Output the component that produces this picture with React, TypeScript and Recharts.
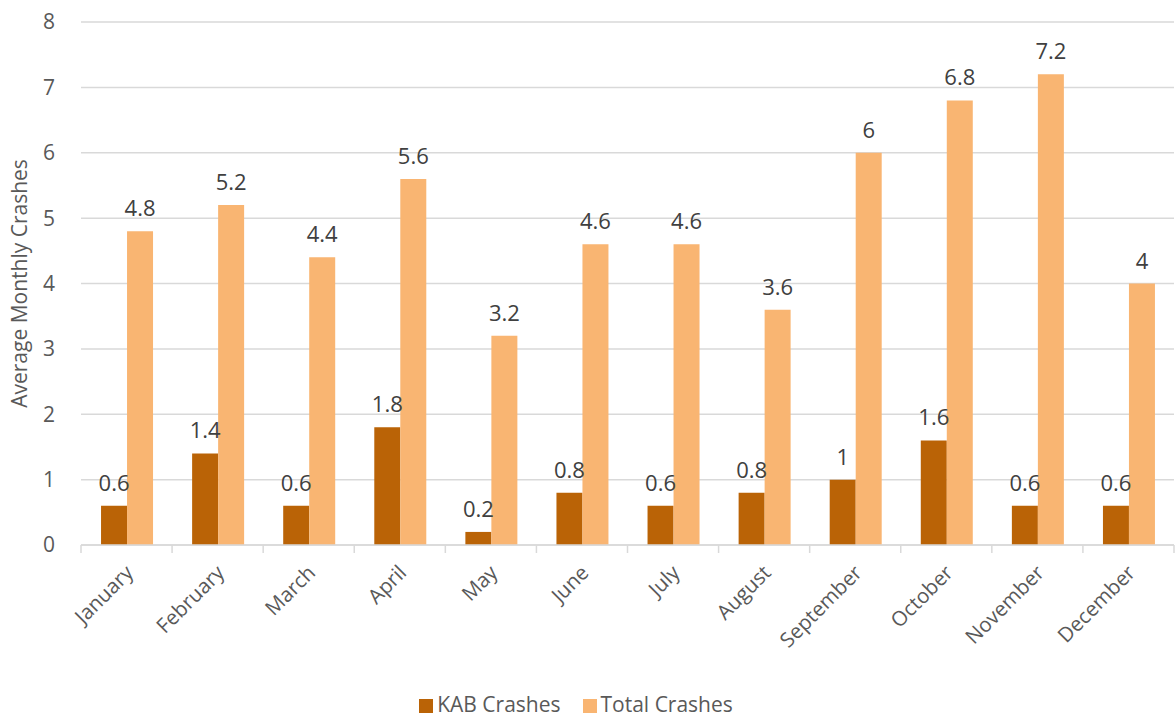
import React from 'react';
import { BarChart, Bar, XAxis, YAxis, CartesianGrid, Legend, LabelList } from 'recharts';

const months = ['January', 'February', 'March', 'April', 'May', 'June', 'July', 'August', 'September', 'October', 'November', 'December'];
const kabCrashes = [0.6, 1.4, 0.6, 1.8, 0.2, 0.8, 0.6, 0.8, 1, 1.6, 0.6, 0.6];
const totalCrashes = [4.8, 5.2, 4.4, 5.6, 3.2, 4.6, 4.6, 3.6, 6, 6.8, 7.2, 4];
const yTicks = [0, 1, 2, 3, 4, 5, 6, 7, 8];

const data = months.map((month, i) => ({ month, kab: kabCrashes[i], total: totalCrashes[i] }));

const WIDTH = 1175;
const HEIGHT = 717;
const LEFT = 81;
const RIGHT = 1;
const FONT = '"Open Sans", "Noto Sans", sans-serif';
const TEXT = '#595959';
const GRID = '#d9d9d9';
const bandWidth = (WIDTH - LEFT - RIGHT) / months.length;

function MonthTick(props: any) {
  const { x, y, payload, index } = props;
  const left = x - bandWidth / 2;
  const tx = x + 8;
  const ty = y + 21;
  return (
    <g>
      <line x1={left} y1={y - 8} x2={left} y2={y} stroke={GRID} strokeWidth={1.5} />
      {index === months.length - 1 && (
        <line x1={x + bandWidth / 2} y1={y - 8} x2={x + bandWidth / 2} y2={y} stroke={GRID} strokeWidth={1.5} />
      )}
      <text
        x={tx}
        y={ty}
        textAnchor="end"
        fill={TEXT}
        fontSize={20.5}
        fontFamily={FONT}
        transform={`rotate(-45, ${tx}, ${ty})`}
      >
        {payload.value}
      </text>
    </g>
  );
}

export default function App() {
  return (
    <div style={{ position: 'absolute', left: 0, top: 0, background: '#fff' }}>
      <BarChart
        width={WIDTH}
        height={HEIGHT}
        data={data}
        margin={{ top: 22, right: RIGHT, left: 0, bottom: 0 }}
        barCategoryGap="22%"
        barGap={0}
      >
        <CartesianGrid vertical={false} stroke={GRID} strokeWidth={1.5} />
        <XAxis
          dataKey="month"
          interval={0}
          tickLine={false}
          axisLine={{ stroke: GRID, strokeWidth: 1.5 }}
          tick={<MonthTick />}
          height={148}
        />
        <YAxis
          width={LEFT}
          domain={[0, 8]}
          ticks={yTicks}
          interval={0}
          axisLine={false}
          tickLine={false}
          tick={{ fill: TEXT, fontSize: 21, fontFamily: FONT }}
          tickMargin={20}
          label={{
            value: 'Average Monthly Crashes',
            angle: -90,
            position: 'insideLeft',
            offset: 20,
            style: { fill: TEXT, fontSize: 21, fontFamily: FONT, textAnchor: 'middle' },
          }}
        />
        <Legend
          verticalAlign="bottom"
          iconType="square"
          iconSize={14}
          wrapperStyle={{ fontFamily: FONT, fontSize: 21, color: TEXT, bottom: 1, lineHeight: '24px' }}
          formatter={(value: string) => <span style={{ color: TEXT, fontSize: 21, marginRight: 12 }}>{value}</span>}
        />
        <Bar dataKey="kab" name="KAB Crashes" fill="#ba6306" isAnimationActive={false}>
          <LabelList dataKey="kab" position="top" offset={15} fill="#404040" fontSize={22} fontFamily={FONT} />
        </Bar>
        <Bar dataKey="total" name="Total Crashes" fill="#f9b572" isAnimationActive={false}>
          <LabelList dataKey="total" position="top" offset={15} fill="#404040" fontSize={22} fontFamily={FONT} />
        </Bar>
      </BarChart>
    </div>
  );
}
